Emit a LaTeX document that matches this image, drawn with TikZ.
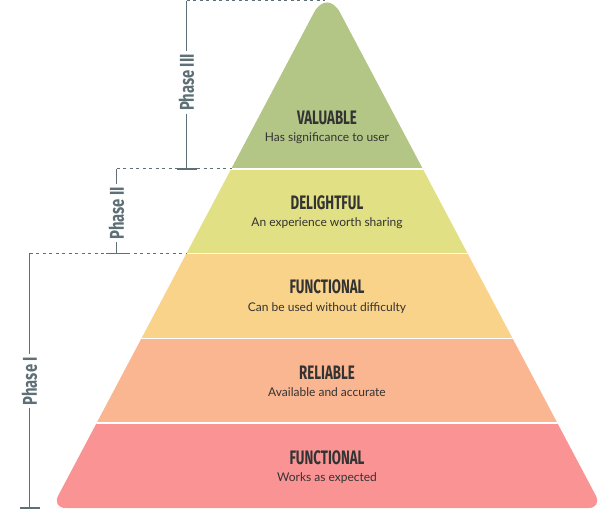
\documentclass[tikz,border=0pt]{standalone}
\usepackage{fontspec}
\setmainfont{Lato}
\newfontfamily\titlefont{Fira Sans}[FakeStretch=0.68]
\newfontfamily\phasefont{Fira Sans}[FakeStretch=0.74]
\definecolor{cGreen}{RGB}{179,198,134}
\definecolor{cYellow}{RGB}{226,224,133}
\definecolor{cGold}{RGB}{250,211,139}
\definecolor{cSalmon}{RGB}{249,182,145}
\definecolor{cPink}{RGB}{250,148,148}
\definecolor{cText}{RGB}{51,51,51}
\definecolor{cPhase}{RGB}{94,112,117}
\tikzset{
  ttl/.style={anchor=base,font=\titlefont\bfseries\fontsize{19.5}{19.5}\selectfont,text=cText,inner sep=0pt},
  sub/.style={anchor=base,font=\fontsize{12}{12}\selectfont,text=cText,inner sep=0pt},
  phase/.style={rotate=90,font=\phasefont\bfseries\fontsize{20}{20}\selectfont,text=cPhase,inner sep=2.5pt},
  brk/.style={draw=cPhase,line width=1.3pt},
  dsh/.style={draw=cPhase,line width=1pt,dash pattern=on 3pt off 3.5pt},
  sep/.style={draw=white,line width=1.5pt}
}
\begin{document}
\begin{tikzpicture}[x=1pt,y=-1pt]
\useasboundingbox (0,0) rectangle (599,510);
% pyramid
\begin{scope}
\clip (58.2,495.6) -- (313.9,12.7) .. controls (321.1,-0.94) and (332.9,-0.94) .. (340.1,12.7)
  -- (595.8,495.6) .. controls (599.4,502.4) and (596.1,508) .. (588.4,508)
  -- (65.6,508) .. controls (57.9,508) and (54.6,502.4) .. (58.2,495.6) -- cycle;
\fill[cGreen]  (0,-20) rectangle (620,169);
\fill[cYellow] (0,169) rectangle (620,253.5);
\fill[cGold]   (0,253.5) rectangle (620,338.5);
\fill[cSalmon] (0,338.5) rectangle (620,423);
\fill[cPink]   (0,423) rectangle (620,520);
\draw[sep] (0,169) -- (620,169);
\draw[sep] (0,253.5) -- (620,253.5);
\draw[sep] (0,338.5) -- (620,338.5);
\draw[sep] (0,423) -- (620,423);
\end{scope}
% texts
\node[ttl] (t1) at (327,125) {VALUABLE};
\node[sub] (s1) at (327,142) {Has significance to user};
\node[ttl] (t2) at (327,209.5) {DELIGHTFUL};
\node[sub] (s2) at (327,226.5) {An experience worth sharing};
\node[ttl] (t3) at (327,294) {FUNCTIONAL};
\node[sub] (s3) at (327,311) {Can be used without difficulty};
\node[ttl] (t4) at (327,379) {RELIABLE};
\node[sub] (s4) at (327,396) {Available and accurate};
\node[ttl] (t5) at (327,464) {FUNCTIONAL};
\node[sub] (s5) at (327,481) {Works as expected};
% phase III
\coordinate (p3t) at (186.5,1);
\coordinate (p3b) at (186.5,169);
\coordinate (p3bl) at (177,169);
\coordinate (p3br) at (197,169);
\coordinate (apex) at (325,1);
\coordinate (e3) at (232,169);
\node[phase] (ph3) at (186.5,82.5) {Phase III};
\draw[brk] (p3t) -- (ph3.east);
\draw[brk] (ph3.west) -- (p3b);
\draw[brk] (p3bl) -- (p3br);
\draw[dsh] (p3t) -- (apex);
\draw[dsh] (p3br) -- (e3);
% phase II
\coordinate (p2t) at (116.5,169);
\coordinate (p2b) at (116.5,253.5);
\coordinate (p2bl) at (106,253.5);
\coordinate (p2br) at (127,253.5);
\coordinate (e2) at (187,253.5);
\node[phase] (ph2) at (116.5,213) {Phase II};
\draw[brk] (p2t) -- (ph2.east);
\draw[brk] (ph2.west) -- (p2b);
\draw[brk] (p2bl) -- (p2br);
\draw[dsh] (p2t) -- (p3bl);
\draw[dsh] (p2br) -- (e2);
% phase I
\coordinate (p1t) at (29.5,253.5);
\coordinate (p1b) at (29.5,508);
\coordinate (p1bl) at (20,508);
\coordinate (p1br) at (40,508);
\node[phase] (ph1) at (29.5,381) {Phase I};
\draw[brk] (p1t) -- (ph1.east);
\draw[brk] (ph1.west) -- (p1b);
\draw[brk] (p1bl) -- (p1br);
\draw[dsh] (p1t) -- (p2bl);
\end{tikzpicture}
\end{document}
